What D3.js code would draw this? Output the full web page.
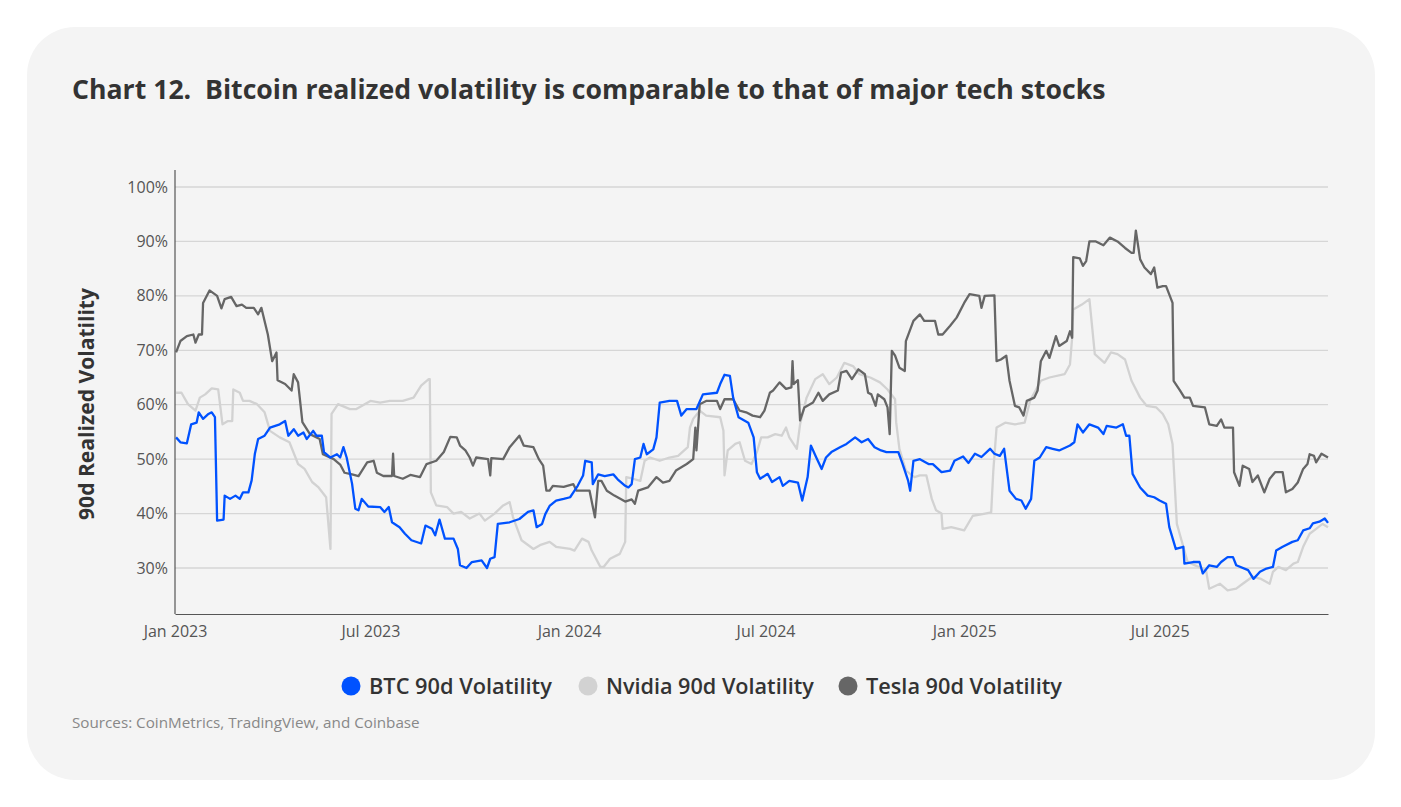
<!DOCTYPE html>
<html>
<head>
<meta charset="utf-8">
<script src="https://cdn.jsdelivr.net/npm/d3@7"></script>
<style>
  body { margin: 0; background: #fff; }
  svg { font-family: "Open Sans", Inter, sans-serif; }
</style>
</head>
<body>
<svg id="chart" width="1401" height="807"></svg>
<script>
// Values: [days since 2023-01-01, volatility %]
const startDate = new Date(2023, 0, 1);
const endDay = 1068;

const btcData = [
  [1,54],[5,53.1],[11,52.9],[15,56.4],[20,56.7],[22,58.6],[26,57.4],[31,58.3],[34,58.6],[37,57.7],
  [39,38.7],[45,38.9],[46,43.3],[51,42.7],[56,43.3],[60,42.7],[63,43.9],[68,43.9],[71,46.1],[74,51],
  [77,53.7],[83,54.3],[88,55.8],[97,56.4],[102,57],[105,54.3],[110,55.5],[114,54.3],[119,54.9],[122,53.7],
  [128,55.2],[131,54.3],[136,54.3],[138,51.3],[144,50.3],[150,50.9],[153,50.3],[156,52.2],[159,50.3],[164,45.5],
  [167,40.9],[170,40.6],[173,42.7],[179,41.3],[190,41.2],[194,40.3],[198,41.2],[201,38.4],[208,37.5],[213,36.3],
  [219,35.1],[228,34.5],[232,37.8],[238,37.2],[241,36],[245,38.9],[250,35.4],[258,35.4],[262,33.5],[264,30.5],
  [270,30],[275,31.1],[284,31.4],[289,30],[292,31.7],[296,32],[299,38.1],[310,38.4],[319,39],[327,40.3],
  [332,40.6],[335,37.5],[340,38.1],[343,39.9],[347,41.4],[353,42.4],[360,42.7],[366,43],[369,43.9],[373,45.1],
  [378,47],[380,49.7],[386,49.4],[387,45.4],[392,47.2],[398,46.9],[406,47.2],[410,46.3],[417,45.1],[420,44.8],
  [423,45.4],[426,50],[431,50.3],[434,52.8],[437,50.9],[443,51.8],[446,54],[449,60.4],[458,60.7],[465,60.7],
  [469,58],[474,59.2],[483,59.2],[489,61.9],[502,62.2],[505,63.8],[509,65.5],[514,65.3],[517,61.3],[522,57.7],
  [531,56.7],[536,54],[539,47.6],[542,46.4],[549,47.3],[553,45.8],[560,46.7],[563,45.1],[569,46],[577,45.7],
  [581,42.4],[586,46.7],[589,52.5],[594,50.3],[599,48.2],[603,50.3],[608,51.3],[616,52.2],[622,52.8],[630,54],
  [636,53.1],[642,53.7],[648,52.2],[654,51.6],[659,51.3],[670,51.3],[674,49.1],[679,46.1],[681,44.2],[684,49.7],
  [690,50],[698,49.1],[702,49.1],[710,47.6],[718,47.9],[722,49.7],[730,50.5],[735,49.3],[741,51],[747,50.4],
  [755,51.9],[759,51],[764,50.6],[768,51.9],[773,44.2],[779,42.7],[784,42.4],[788,40.9],[793,42.7],[796,49.7],
  [801,50.3],[807,52.2],[813,51.9],[819,51.6],[829,52.5],[833,53.1],[836,56.4],[841,54.9],[847,56.4],[855,55.8],
  [860,54.6],[863,56.1],[872,55.8],[878,56.4],[881,54.3],[884,54.3],[887,47.3],[894,44.8],[901,43.3],[907,43],
  [912,42.4],[918,41.8],[921,37.5],[927,33.5],[934,33.9],[935,30.8],[943,31.1],[949,31.1],[952,29],[958,30.5],
  [965,30.2],[969,31.1],[975,32],[980,32],[983,30.5],[994,29.6],[999,28],[1005,29.3],[1011,29.9],[1017,30.2],
  [1020,33.2],[1026,33.9],[1035,34.8],[1040,35.1],[1045,36.9],[1051,37.3],[1054,38.2],[1060,38.5],[1065,39.1],[1068,38.3]
];

const nvdaData = [
  [1,62.2],[6,62.2],[12,60.1],[19,58.9],[23,61.3],[28,61.9],[34,63],[40,62.8],[44,56.4],[49,57],
  [53,57],[54,62.8],[60,62.2],[63,60.7],[69,60.7],[76,60.1],[83,58.6],[88,55.2],[97,54],[106,53.1],
  [114,49.1],[120,48.2],[127,45.8],[133,44.8],[140,43],[144,33.5],[145,58.3],[151,60.1],[162,59.2],[168,59.2],
  [181,60.7],[190,60.4],[199,60.7],[211,60.7],[221,61.3],[228,63.5],[235,64.7],[236,64.7],[237,43.9],[242,41.5],
  [252,41.2],[258,40],[265,40.3],[273,39.1],[282,40],[287,38.7],[296,40],[304,41.5],[310,42.1],[313,39.4],
  [321,35.1],[332,33.5],[338,34.2],[347,34.8],[353,33.9],[366,33.5],[370,33.2],[377,35.4],[383,34.8],[386,33.2],
  [394,30.2],[397,30.2],[403,31.7],[412,32.6],[417,34.8],[418,46.7],[424,46.4],[431,46],[435,49.7],[440,50.3],
  [449,49.7],[458,50.3],[466,50.6],[475,52.2],[477,55.8],[480,57.4],[486,58.9],[492,58],[505,57.7],[508,55.2],
  [509,47],[512,51.6],[519,52.8],[523,53.1],[528,49.7],[534,49.1],[539,51.3],[543,54],[549,54],[556,54.6],
  [562,54.3],[566,55.8],[569,54],[576,51.9],[579,56.4],[585,61.3],[593,64.7],[600,65.6],[606,63.8],[613,65],
  [620,67.7],[628,67.1],[634,65.6],[644,65],[653,64.1],[660,62.8],[667,61],[668,56.8],[671,51.9],[677,47.9],
  [685,46.7],[690,47],[696,47],[701,42.7],[705,40.6],[710,40],[711,37.2],[719,37.5],[731,36.9],[739,39.6],
  [748,39.9],[756,40.2],[758,47.9],[761,55.8],[769,56.7],[778,56.4],[787,56.7],[792,60.7],[802,64.4],[810,65],
  [824,65.6],[829,67.4],[831,72.3],[832,77.5],[840,78.4],[847,79.4],[852,69.3],[861,67.7],[867,69.6],[873,69.3],
  [880,68.3],[886,64.4],[894,61.3],[900,59.8],[909,59.5],[915,58.3],[920,56.4],[924,52.8],[928,38.1],[934,33.9],
  [938,31.1],[948,30.2],[955,29.6],[958,26.2],[968,27.1],[975,25.9],[983,26.2],[989,27.1],[998,28.4],[1006,28],
  [1014,27.1],[1017,29.3],[1022,30.2],[1029,29.6],[1036,30.8],[1040,31.1],[1045,33.9],[1051,36.3],[1057,37.2],[1063,38.1],[1068,37.5]
];

const tslaData = [
  [1,69.6],[5,71.7],[11,72.6],[17,72.9],[19,71.4],[22,72.9],[25,72.9],[26,78.7],[32,81],[39,80],
  [43,77.7],[46,79.4],[52,79.8],[57,78.1],[62,78.4],[66,77.8],[73,77.8],[77,76.6],[80,77.8],[86,72.9],
  [90,68],[94,69.6],[95,64.5],[102,63.8],[108,62.6],[110,65.6],[114,64.1],[118,56.8],[125,54.6],[134,53.7],
  [137,50.9],[147,50],[153,49],[157,47.5],[164,47.2],[170,46.9],[178,49.4],[184,49.7],[187,47.5],[193,46.9],
  [201,46.9],[202,51],[203,46.9],[211,46.4],[218,47.1],[227,46.7],[233,49.1],[242,49.7],[249,51.3],[255,54.1],
  [261,54],[264,52.5],[269,51.6],[273,50.3],[276,48.8],[279,50.3],[290,50],[292,47],[293,50.2],[304,50],
  [310,52.2],[319,54.3],[323,52.5],[332,52.2],[337,50],[341,48.8],[344,44.2],[347,44.2],[350,45.1],[360,44.9],
  [369,45.4],[372,44.2],[384,44.2],[389,39.3],[392,46],[395,46],[400,44.2],[407,43.3],[417,42.2],[423,42.6],
  [426,41.8],[429,44.2],[438,44.8],[446,46.7],[452,45.7],[458,46],[464,47.9],[474,49.1],[480,50],[482,55.8],
  [483,51.6],[486,60.1],[492,60.7],[502,60.7],[505,59.2],[509,61],[517,61],[523,58.9],[529,58.6],[535,58],
  [542,57.7],[546,58.9],[551,62.2],[554,62.6],[560,64.1],[566,62.9],[571,63.2],[572,68],[573,63.8],[577,64.5],
  [579,57.1],[583,59.5],[591,60.4],[596,62.2],[600,60.7],[606,61.9],[614,62.6],[617,65.9],[622,66.2],[627,64.7],
  [633,66.5],[639,65.6],[642,62.2],[645,61.9],[649,59.8],[651,61.9],[657,61],[660,59.5],[662,54.6],[664,69.9],
  [667,69],[671,66.8],[676,66.2],[677,71.7],[684,75.4],[690,76.6],[694,75.4],[704,75.4],[707,72.9],[711,72.9],
  [718,74.5],[724,76],[731,78.7],[736,80.3],[745,80],[747,77.8],[750,80],[759,80.1],[761,68],[765,68.3],
  [770,69],[773,64.4],[778,59.8],[782,59.5],[786,58],[789,60.7],[796,61.3],[799,62.6],[802,68],[807,69.9],
  [810,68.6],[816,72.6],[819,70.8],[826,71.7],[829,73.5],[831,72.3],[832,87.1],[838,86.9],[841,85.5],[844,86.4],
  [847,90],[853,90],[860,89.3],[866,90.7],[873,90],[880,88.8],[886,87.9],[888,87.9],[890,92],[894,86.7],
  [898,85.2],[904,84],[907,85.2],[910,81.5],[915,81.8],[918,81.8],[924,78.7],[925,64.4],[931,62.6],[935,61.3],
  [940,61.3],[943,59.8],[954,59.5],[958,56.4],[965,56.1],[969,57.3],[972,55.8],[980,55.8],[981,47.6],[986,45.1],
  [989,48.8],[995,48.2],[998,45.8],[1003,47],[1009,43.9],[1014,46.4],[1019,47.6],[1026,47.6],[1029,43.9],[1035,44.5],
  [1040,45.7],[1045,48.2],[1049,49.1],[1051,50.9],[1055,50.6],[1057,49.4],[1062,51],[1068,50.3]
];

const series = [
  { name: 'Nvidia 90d Volatility', color: '#d2d2d2', data: nvdaData },
  { name: 'Tesla 90d Volatility', color: '#666666', data: tslaData },
  { name: 'BTC 90d Volatility', color: '#0052ff', data: btcData }
];
const legendOrder = ['BTC 90d Volatility', 'Nvidia 90d Volatility', 'Tesla 90d Volatility'];
const yTicks = [30, 40, 50, 60, 70, 80, 90, 100];
const xTicks = [new Date(2023,0,1), new Date(2023,6,1), new Date(2024,0,1), new Date(2024,6,1), new Date(2025,0,1), new Date(2025,6,1)];

const svg = d3.select('#chart');

// shrink / grow a text element's font so it spans the wanted width
function fitWidth(sel, width) {
  sel.each(function () {
    const fs = parseFloat(this.style.fontSize);
    const w = this.getComputedTextLength();
    this.style.fontSize = (fs * width / w) + 'px';
  });
}

// card
svg.append('rect').attr('x', 27).attr('y', 27).attr('width', 1348).attr('height', 753)
  .attr('rx', 48).attr('fill', '#f4f4f4');

svg.append('text').attr('x', 72).attr('y', 99)
  .text('Chart 12.  Bitcoin realized volatility is comparable to that of major tech stocks')
  .style('font-size', '24px').style('font-weight', 700).style('white-space', 'pre').attr('fill', '#333')
  .call(fitWidth, 1034);

const plotLeft = 175, plotRight = 1328, plotTop = 187, plotBottom = 614;
const x = d3.scaleTime([startDate, d3.timeDay.offset(startDate, endDay)], [plotLeft, plotRight]);
const y = d3.scaleLinear([100, 30], [plotTop, 568]);

// grid
svg.append('g').selectAll('line').data(yTicks).join('line')
  .attr('x1', plotLeft).attr('x2', plotRight).attr('y1', d => y(d)).attr('y2', d => y(d))
  .attr('stroke', '#d6d6d6').attr('stroke-width', 1.3);

// y axis
const yAxis = svg.append('g').attr('transform', `translate(${plotLeft},0)`)
  .call(d3.axisLeft(y).tickValues(yTicks).tickFormat(d => d + '%').tickSize(0).tickPadding(7));
yAxis.select('.domain').remove();
yAxis.selectAll('text').style('font-size', '16px').style('font-family', '"Open Sans"').attr('fill', '#555');
svg.append('line').attr('x1', plotLeft).attr('x2', plotLeft).attr('y1', 170).attr('y2', plotBottom)
  .attr('stroke', '#555').attr('stroke-width', 1.2);

// x axis
const xAxis = svg.append('g').attr('transform', `translate(0,${plotBottom})`)
  .call(d3.axisBottom(x).tickValues(xTicks).tickFormat(d3.timeFormat('%b %Y')).tickSize(0).tickPadding(12));
xAxis.select('.domain').attr('stroke', '#555').attr('stroke-width', 1.2);
xAxis.selectAll('text').style('font-size', '16px').style('font-family', '"Open Sans"').attr('fill', '#555');

svg.append('text').attr('transform', `translate(94,404) rotate(-90)`).attr('text-anchor', 'middle')
  .text('90d Realized Volatility').style('font-size', '17px').style('font-weight', 700).attr('fill', '#333')
  .call(fitWidth, 232);

const line = d3.line().x(d => x(d3.timeDay.offset(startDate, d[0]))).y(d => y(d[1]));
svg.append('g').selectAll('path').data(series).join('path')
  .attr('d', d => line(d.data)).attr('fill', 'none').attr('stroke', d => d.color)
  .attr('stroke-width', 2.3).attr('stroke-linejoin', 'round');

// legend
const legendX = [351, 588, 848];
const legendW = [183, 208, 196];
const lg = svg.append('g').selectAll('g').data(legendOrder).join('g')
  .attr('transform', (d, i) => `translate(${legendX[i]},686)`);
lg.append('circle').attr('r', 9.5).attr('fill', d => series.find(s => s.name === d).color);
lg.append('text').attr('x', 18).attr('dy', '0.36em').text(d => d)
  .style('font-size', '18px').style('font-weight', 600).attr('fill', '#333')
  .each(function (d, i) { d3.select(this).call(fitWidth, legendW[i]); });

svg.append('text').attr('x', 72).attr('y', 728).text('Sources: CoinMetrics, TradingView, and Coinbase')
  .style('font-size', '13px').attr('fill', '#888').call(fitWidth, 348);
</script>
</body>
</html>
